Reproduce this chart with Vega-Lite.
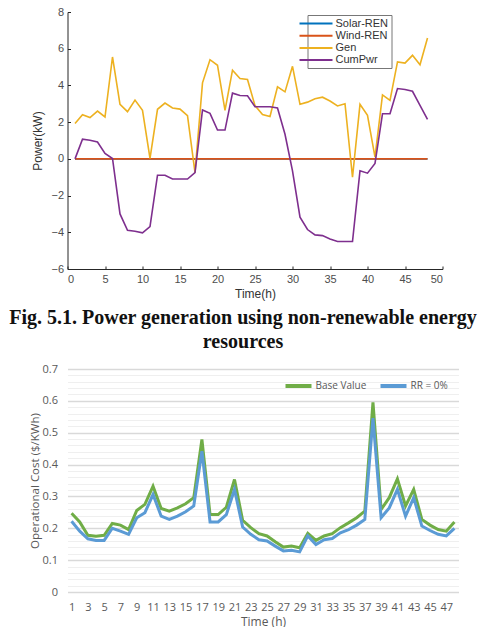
{
  "$schema": "https://vega.github.io/schema/vega-lite/v6.json",
  "background": "white",
  "padding": {"left": 8.5, "top": 6, "right": 0, "bottom": 0},
  "spacing": 9,
  "resolve": {"scale": {"color": "independent", "x": "independent", "y": "independent"}, "legend": {"color": "independent"}},
  "config": {"view": {"stroke": null}},
  "datasets": {
    "power": [
      {"t":1,"s":"Solar-REN","p":0},{"t":2,"s":"Solar-REN","p":0},{"t":3,"s":"Solar-REN","p":0},{"t":4,"s":"Solar-REN","p":0},{"t":5,"s":"Solar-REN","p":0},{"t":6,"s":"Solar-REN","p":0},{"t":7,"s":"Solar-REN","p":0},{"t":8,"s":"Solar-REN","p":0},{"t":9,"s":"Solar-REN","p":0},{"t":10,"s":"Solar-REN","p":0},{"t":11,"s":"Solar-REN","p":0},{"t":12,"s":"Solar-REN","p":0},{"t":13,"s":"Solar-REN","p":0},{"t":14,"s":"Solar-REN","p":0},{"t":15,"s":"Solar-REN","p":0},{"t":16,"s":"Solar-REN","p":0},{"t":17,"s":"Solar-REN","p":0},{"t":18,"s":"Solar-REN","p":0},{"t":19,"s":"Solar-REN","p":0},{"t":20,"s":"Solar-REN","p":0},{"t":21,"s":"Solar-REN","p":0},{"t":22,"s":"Solar-REN","p":0},{"t":23,"s":"Solar-REN","p":0},{"t":24,"s":"Solar-REN","p":0},{"t":25,"s":"Solar-REN","p":0},{"t":26,"s":"Solar-REN","p":0},{"t":27,"s":"Solar-REN","p":0},{"t":28,"s":"Solar-REN","p":0},{"t":29,"s":"Solar-REN","p":0},{"t":30,"s":"Solar-REN","p":0},{"t":31,"s":"Solar-REN","p":0},{"t":32,"s":"Solar-REN","p":0},{"t":33,"s":"Solar-REN","p":0},{"t":34,"s":"Solar-REN","p":0},{"t":35,"s":"Solar-REN","p":0},{"t":36,"s":"Solar-REN","p":0},{"t":37,"s":"Solar-REN","p":0},{"t":38,"s":"Solar-REN","p":0},{"t":39,"s":"Solar-REN","p":0},{"t":40,"s":"Solar-REN","p":0},{"t":41,"s":"Solar-REN","p":0},{"t":42,"s":"Solar-REN","p":0},{"t":43,"s":"Solar-REN","p":0},{"t":44,"s":"Solar-REN","p":0},{"t":45,"s":"Solar-REN","p":0},{"t":46,"s":"Solar-REN","p":0},{"t":47,"s":"Solar-REN","p":0},{"t":48,"s":"Solar-REN","p":0},
      {"t":1,"s":"Wind-REN","p":0},{"t":2,"s":"Wind-REN","p":0},{"t":3,"s":"Wind-REN","p":0},{"t":4,"s":"Wind-REN","p":0},{"t":5,"s":"Wind-REN","p":0},{"t":6,"s":"Wind-REN","p":0},{"t":7,"s":"Wind-REN","p":0},{"t":8,"s":"Wind-REN","p":0},{"t":9,"s":"Wind-REN","p":0},{"t":10,"s":"Wind-REN","p":0},{"t":11,"s":"Wind-REN","p":0},{"t":12,"s":"Wind-REN","p":0},{"t":13,"s":"Wind-REN","p":0},{"t":14,"s":"Wind-REN","p":0},{"t":15,"s":"Wind-REN","p":0},{"t":16,"s":"Wind-REN","p":0},{"t":17,"s":"Wind-REN","p":0},{"t":18,"s":"Wind-REN","p":0},{"t":19,"s":"Wind-REN","p":0},{"t":20,"s":"Wind-REN","p":0},{"t":21,"s":"Wind-REN","p":0},{"t":22,"s":"Wind-REN","p":0},{"t":23,"s":"Wind-REN","p":0},{"t":24,"s":"Wind-REN","p":0},{"t":25,"s":"Wind-REN","p":0},{"t":26,"s":"Wind-REN","p":0},{"t":27,"s":"Wind-REN","p":0},{"t":28,"s":"Wind-REN","p":0},{"t":29,"s":"Wind-REN","p":0},{"t":30,"s":"Wind-REN","p":0},{"t":31,"s":"Wind-REN","p":0},{"t":32,"s":"Wind-REN","p":0},{"t":33,"s":"Wind-REN","p":0},{"t":34,"s":"Wind-REN","p":0},{"t":35,"s":"Wind-REN","p":0},{"t":36,"s":"Wind-REN","p":0},{"t":37,"s":"Wind-REN","p":0},{"t":38,"s":"Wind-REN","p":0},{"t":39,"s":"Wind-REN","p":0},{"t":40,"s":"Wind-REN","p":0},{"t":41,"s":"Wind-REN","p":0},{"t":42,"s":"Wind-REN","p":0},{"t":43,"s":"Wind-REN","p":0},{"t":44,"s":"Wind-REN","p":0},{"t":45,"s":"Wind-REN","p":0},{"t":46,"s":"Wind-REN","p":0},{"t":47,"s":"Wind-REN","p":0},{"t":48,"s":"Wind-REN","p":0},
      {"t":1,"s":"Gen","p":1.93},{"t":2,"s":"Gen","p":2.4},{"t":3,"s":"Gen","p":2.25},{"t":4,"s":"Gen","p":2.6},{"t":5,"s":"Gen","p":2.28},{"t":6,"s":"Gen","p":5.55},{"t":7,"s":"Gen","p":2.97},{"t":8,"s":"Gen","p":2.57},{"t":9,"s":"Gen","p":3.2},{"t":10,"s":"Gen","p":2.64},{"t":11,"s":"Gen","p":0.02},{"t":12,"s":"Gen","p":2.7},{"t":13,"s":"Gen","p":3.04},{"t":14,"s":"Gen","p":2.77},{"t":15,"s":"Gen","p":2.71},{"t":16,"s":"Gen","p":2.35},{"t":17,"s":"Gen","p":-0.75},{"t":18,"s":"Gen","p":4.14},{"t":19,"s":"Gen","p":5.4},{"t":20,"s":"Gen","p":5.1},{"t":21,"s":"Gen","p":2.64},{"t":22,"s":"Gen","p":4.83},{"t":23,"s":"Gen","p":4.38},{"t":24,"s":"Gen","p":4.32},{"t":25,"s":"Gen","p":2.9},{"t":26,"s":"Gen","p":2.42},{"t":27,"s":"Gen","p":2.31},{"t":28,"s":"Gen","p":3.92},{"t":29,"s":"Gen","p":3.65},{"t":30,"s":"Gen","p":5.04},{"t":31,"s":"Gen","p":2.97},{"t":32,"s":"Gen","p":3.09},{"t":33,"s":"Gen","p":3.27},{"t":34,"s":"Gen","p":3.36},{"t":35,"s":"Gen","p":3.15},{"t":36,"s":"Gen","p":2.88},{"t":37,"s":"Gen","p":3.0},{"t":38,"s":"Gen","p":-1.0},{"t":39,"s":"Gen","p":2.97},{"t":40,"s":"Gen","p":2.37},{"t":41,"s":"Gen","p":0.1},{"t":42,"s":"Gen","p":3.48},{"t":43,"s":"Gen","p":3.18},{"t":44,"s":"Gen","p":5.28},{"t":45,"s":"Gen","p":5.22},{"t":46,"s":"Gen","p":5.64},{"t":47,"s":"Gen","p":5.13},{"t":48,"s":"Gen","p":6.58},
      {"t":1,"s":"CumPwr","p":0.0},{"t":2,"s":"CumPwr","p":1.07},{"t":3,"s":"CumPwr","p":1.01},{"t":4,"s":"CumPwr","p":0.92},{"t":5,"s":"CumPwr","p":0.3},{"t":6,"s":"CumPwr","p":0.02},{"t":7,"s":"CumPwr","p":-3.0},{"t":8,"s":"CumPwr","p":-3.89},{"t":9,"s":"CumPwr","p":-3.94},{"t":10,"s":"CumPwr","p":-4.03},{"t":11,"s":"CumPwr","p":-3.69},{"t":12,"s":"CumPwr","p":-0.89},{"t":13,"s":"CumPwr","p":-0.89},{"t":14,"s":"CumPwr","p":-1.1},{"t":15,"s":"CumPwr","p":-1.1},{"t":16,"s":"CumPwr","p":-1.1},{"t":17,"s":"CumPwr","p":-0.75},{"t":18,"s":"CumPwr","p":2.66},{"t":19,"s":"CumPwr","p":2.48},{"t":20,"s":"CumPwr","p":1.57},{"t":21,"s":"CumPwr","p":1.57},{"t":22,"s":"CumPwr","p":3.58},{"t":23,"s":"CumPwr","p":3.45},{"t":24,"s":"CumPwr","p":3.44},{"t":25,"s":"CumPwr","p":2.84},{"t":26,"s":"CumPwr","p":2.84},{"t":27,"s":"CumPwr","p":2.84},{"t":28,"s":"CumPwr","p":2.77},{"t":29,"s":"CumPwr","p":1.34},{"t":30,"s":"CumPwr","p":-0.65},{"t":31,"s":"CumPwr","p":-3.18},{"t":32,"s":"CumPwr","p":-3.85},{"t":33,"s":"CumPwr","p":-4.14},{"t":34,"s":"CumPwr","p":-4.18},{"t":35,"s":"CumPwr","p":-4.36},{"t":36,"s":"CumPwr","p":-4.5},{"t":37,"s":"CumPwr","p":-4.5},{"t":38,"s":"CumPwr","p":-4.5},{"t":39,"s":"CumPwr","p":-0.65},{"t":40,"s":"CumPwr","p":-0.78},{"t":41,"s":"CumPwr","p":-0.25},{"t":42,"s":"CumPwr","p":2.46},{"t":43,"s":"CumPwr","p":2.46},{"t":44,"s":"CumPwr","p":3.83},{"t":45,"s":"CumPwr","p":3.78},{"t":46,"s":"CumPwr","p":3.68},{"t":47,"s":"CumPwr","p":2.91},{"t":48,"s":"CumPwr","p":2.15}
    ],
    "cost": [
      {"h":1,"s":"Base Value","c":0.247},{"h":2,"s":"Base Value","c":0.22},{"h":3,"s":"Base Value","c":0.178},{"h":4,"s":"Base Value","c":0.175},{"h":5,"s":"Base Value","c":0.178},{"h":6,"s":"Base Value","c":0.215},{"h":7,"s":"Base Value","c":0.21},{"h":8,"s":"Base Value","c":0.196},{"h":9,"s":"Base Value","c":0.256},{"h":10,"s":"Base Value","c":0.275},{"h":11,"s":"Base Value","c":0.332},{"h":12,"s":"Base Value","c":0.262},{"h":13,"s":"Base Value","c":0.254},{"h":14,"s":"Base Value","c":0.264},{"h":15,"s":"Base Value","c":0.277},{"h":16,"s":"Base Value","c":0.296},{"h":17,"s":"Base Value","c":0.479},{"h":18,"s":"Base Value","c":0.243},{"h":19,"s":"Base Value","c":0.243},{"h":20,"s":"Base Value","c":0.266},{"h":21,"s":"Base Value","c":0.353},{"h":22,"s":"Base Value","c":0.225},{"h":23,"s":"Base Value","c":0.202},{"h":24,"s":"Base Value","c":0.183},{"h":25,"s":"Base Value","c":0.176},{"h":26,"s":"Base Value","c":0.158},{"h":27,"s":"Base Value","c":0.141},{"h":28,"s":"Base Value","c":0.144},{"h":29,"s":"Base Value","c":0.139},{"h":30,"s":"Base Value","c":0.184},{"h":31,"s":"Base Value","c":0.162},{"h":32,"s":"Base Value","c":0.176},{"h":33,"s":"Base Value","c":0.183},{"h":34,"s":"Base Value","c":0.202},{"h":35,"s":"Base Value","c":0.217},{"h":36,"s":"Base Value","c":0.233},{"h":37,"s":"Base Value","c":0.254},{"h":38,"s":"Base Value","c":0.595},{"h":39,"s":"Base Value","c":0.259},{"h":40,"s":"Base Value","c":0.296},{"h":41,"s":"Base Value","c":0.355},{"h":42,"s":"Base Value","c":0.27},{"h":43,"s":"Base Value","c":0.322},{"h":44,"s":"Base Value","c":0.228},{"h":45,"s":"Base Value","c":0.21},{"h":46,"s":"Base Value","c":0.196},{"h":47,"s":"Base Value","c":0.191},{"h":48,"s":"Base Value","c":0.22},
      {"h":1,"s":"RR = 0%","c":0.222},{"h":2,"s":"RR = 0%","c":0.191},{"h":3,"s":"RR = 0%","c":0.167},{"h":4,"s":"RR = 0%","c":0.162},{"h":5,"s":"RR = 0%","c":0.162},{"h":6,"s":"RR = 0%","c":0.2},{"h":7,"s":"RR = 0%","c":0.191},{"h":8,"s":"RR = 0%","c":0.181},{"h":9,"s":"RR = 0%","c":0.233},{"h":10,"s":"RR = 0%","c":0.249},{"h":11,"s":"RR = 0%","c":0.306},{"h":12,"s":"RR = 0%","c":0.238},{"h":13,"s":"RR = 0%","c":0.228},{"h":14,"s":"RR = 0%","c":0.238},{"h":15,"s":"RR = 0%","c":0.252},{"h":16,"s":"RR = 0%","c":0.27},{"h":17,"s":"RR = 0%","c":0.442},{"h":18,"s":"RR = 0%","c":0.22},{"h":19,"s":"RR = 0%","c":0.22},{"h":20,"s":"RR = 0%","c":0.243},{"h":21,"s":"RR = 0%","c":0.322},{"h":22,"s":"RR = 0%","c":0.204},{"h":23,"s":"RR = 0%","c":0.181},{"h":24,"s":"RR = 0%","c":0.164},{"h":25,"s":"RR = 0%","c":0.16},{"h":26,"s":"RR = 0%","c":0.144},{"h":27,"s":"RR = 0%","c":0.129},{"h":28,"s":"RR = 0%","c":0.131},{"h":29,"s":"RR = 0%","c":0.126},{"h":30,"s":"RR = 0%","c":0.176},{"h":31,"s":"RR = 0%","c":0.149},{"h":32,"s":"RR = 0%","c":0.164},{"h":33,"s":"RR = 0%","c":0.168},{"h":34,"s":"RR = 0%","c":0.186},{"h":35,"s":"RR = 0%","c":0.196},{"h":36,"s":"RR = 0%","c":0.21},{"h":37,"s":"RR = 0%","c":0.228},{"h":38,"s":"RR = 0%","c":0.546},{"h":39,"s":"RR = 0%","c":0.233},{"h":40,"s":"RR = 0%","c":0.264},{"h":41,"s":"RR = 0%","c":0.322},{"h":42,"s":"RR = 0%","c":0.238},{"h":43,"s":"RR = 0%","c":0.296},{"h":44,"s":"RR = 0%","c":0.207},{"h":45,"s":"RR = 0%","c":0.193},{"h":46,"s":"RR = 0%","c":0.181},{"h":47,"s":"RR = 0%","c":0.176},{"h":48,"s":"RR = 0%","c":0.2}
    ]
  },
  "vconcat": [
    {
      "width": 375,
      "height": 257,
      "data": {"name": "power"},
      "mark": {"type": "line", "strokeWidth": 1.6},
      "encoding": {
        "x": {
          "field": "t", "type": "quantitative",
          "scale": {"domain": [0, 50], "nice": false},
          "axis": {
            "title": "Time(h)", "values": [0,5,10,15,20,25,30,35,40,45,50],
            "grid": false, "domainColor": "#262626", "tickColor": "#262626",
            "tickSize": -3, "labelPadding": 7,
            "labelFont": "Liberation Sans", "labelFontSize": 11, "labelColor": "#4d4d4d",
            "titleFont": "Liberation Sans", "titleFontSize": 12, "titleFontWeight": "normal", "titleColor": "#333333", "titlePadding": 4
          }
        },
        "y": {
          "field": "p", "type": "quantitative",
          "scale": {"domain": [-6, 8], "nice": false},
          "axis": {
            "title": "Power(kW)", "values": [-6,-4,-2,0,2,4,6,8],
            "grid": false, "domainColor": "#262626", "tickColor": "#262626",
            "tickSize": -3, "labelPadding": 7,
            "labelFont": "Liberation Sans", "labelFontSize": 11, "labelColor": "#4d4d4d",
            "titleFont": "Liberation Sans", "titleFontSize": 12, "titleFontWeight": "normal", "titleColor": "#333333",
            "titleX": -30, "titleBaseline": "middle", "titleAlign": "center"
          }
        },
        "color": {
          "field": "s", "type": "nominal",
          "scale": {"domain": ["Solar-REN","Wind-REN","Gen","CumPwr"], "range": ["#0072BD","#D95319","#EDB120","#7E2F8E"]},
          "legend": {
            "title": null, "orient": "none", "legendX": 240, "legendY": 3,
            "symbolType": "M-3.3,0H3.3", "symbolSize": 100, "symbolStrokeWidth": 2,
            "labelOffset": 13.5, "labelFont": "Liberation Sans", "labelFontSize": 11, "labelColor": "#333333",
            "rowPadding": 1.2, "padding": 2.5, "strokeColor": "#777777", "fillColor": "white"
          }
        }
      }
    },
    {
      "width": 391,
      "height": 223,
      "title": {
        "text": ["Fig. 5.1. Power generation using non-renewable energy", "resources"],
        "font": "Liberation Serif", "fontSize": 20, "fontWeight": "bold", "color": "#111111",
        "lineHeight": 24, "frame": "bounds", "anchor": "start", "align": "center", "dx": 213.5, "offset": 11
      },
      "data": {"name": "cost"},
      "mark": {"type": "line", "strokeWidth": 3},
      "encoding": {
        "x": {
          "field": "h", "type": "quantitative",
          "scale": {"domain": [0.5, 48.5], "nice": false, "zero": false},
          "axis": {
            "title": "Time (h)", "values": [1,3,5,7,9,11,13,15,17,19,21,23,25,27,29,31,33,35,37,39,41,43,45,47],
            "grid": false, "domain": false, "ticks": false, "labelPadding": 9,
            "labelFont": "Open Sans", "labelFontSize": 11, "labelColor": "#595959",
            "titleFont": "Open Sans", "titleFontSize": 12, "titleFontWeight": "normal", "titleColor": "#595959", "titlePadding": 4
          }
        },
        "y": {
          "field": "c", "type": "quantitative",
          "scale": {"domain": [0, 0.7], "nice": false},
          "axis": {
            "title": "Operational Cost ($/KWh)",
            "values": [0,0.02,0.04,0.06,0.08,0.1,0.12,0.14,0.16,0.18,0.2,0.22,0.24,0.26,0.28,0.3,0.32,0.34,0.36,0.38,0.4,0.42,0.44,0.46,0.48,0.5,0.52,0.54,0.56,0.58,0.6,0.62,0.64,0.66,0.68,0.7],
            "labelExpr": "abs(datum.value*10 - round(datum.value*10)) < 0.001 ? format(datum.value, '.1~f') : ''",
            "grid": true,
            "gridColor": {"condition": {"test": "abs(datum.value*10 - round(datum.value*10)) < 0.001", "value": "#d9d9d9"}, "value": "#efefef"},
            "gridWidth": {"condition": {"test": "abs(datum.value*10 - round(datum.value*10)) < 0.001", "value": 1.5}, "value": 1},
            "domain": false, "ticks": false, "labelPadding": 10,
            "labelFont": "Open Sans", "labelFontSize": 11, "labelColor": "#595959",
            "titleFont": "Open Sans", "titleFontSize": 11.5, "titleFontWeight": "normal", "titleColor": "#595959",
            "titleX": -32, "titleBaseline": "middle", "titleAlign": "center"
          }
        },
        "color": {
          "field": "s", "type": "nominal",
          "scale": {"domain": ["Base Value","RR = 0%"], "range": ["#70AD47","#5B9BD5"]},
          "legend": {
            "title": null, "orient": "top-right", "direction": "horizontal", "offset": 10,
            "symbolType": "M-2.6,0H2.6", "symbolSize": 100, "symbolStrokeWidth": 4,
            "labelOffset": 10, "columnPadding": 6,
            "labelFont": "Open Sans", "labelFontSize": 10, "labelColor": "#595959"
          }
        }
      }
    }
  ]
}
